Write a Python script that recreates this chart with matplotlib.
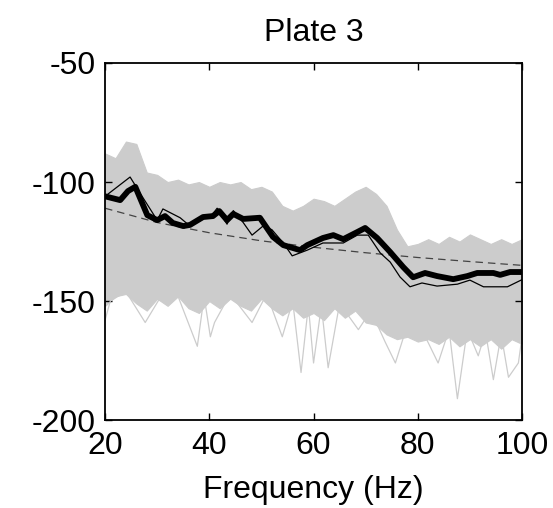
import matplotlib
matplotlib.use("Agg")
import matplotlib.pyplot as plt

plt.rcParams['font.family'] = ['Liberation Sans', 'DejaVu Sans']

# grey band of individual spectra: envelope read every 2 Hz
band_freq = [20, 22, 24, 26, 28, 30, 32, 34, 36, 38, 40, 42, 44, 46, 48, 50, 52, 54, 56, 58, 60,
             62, 64, 66, 68, 70, 72, 74, 76, 78, 80, 82, 84, 86, 88, 90, 92, 94, 96, 98, 100]
band_upper = [-88, -90, -83, -84, -96, -97, -100, -99, -101, -100, -102, -100, -101, -100, -103,
              -102, -104, -110, -112, -110, -107, -108, -110, -107, -104, -102, -105, -110, -120,
              -127, -126, -124, -126, -123, -125, -122, -124, -126, -124, -126, -124]
band_lower = [-152, -148, -147, -151, -154, -149, -152, -148, -153, -155, -150, -153, -149, -152,
              -154, -149, -153, -156, -153, -157, -155, -158, -153, -157, -154, -159, -160, -164,
              -166, -165, -167, -166, -168, -165, -169, -166, -169, -166, -170, -166, -168]

# low outliers below the band
spike_freq = [20, 21, 24, 27.7, 31, 34, 37.7, 39, 40.2, 41, 44, 48.2, 51, 54, 56, 57.6, 59, 60,
              61.5, 62.8, 65, 68.6, 71, 73.7, 75.7, 78, 81, 83.9, 86, 87.6, 89.5, 91.6, 93, 94.5,
              96, 97.4, 99.3, 100]
spike_vals = [-158, -150, -146, -159, -147, -148, -169, -148, -165, -159, -147, -159, -147, -165,
              -150, -180, -152, -176, -152, -178, -151, -162, -154, -167, -176, -160, -163, -176,
              -162, -191, -162, -173, -163, -183, -164, -182, -176, -165]

# thick black curve
thick_freq = [20, 22.9, 24.4, 25.8, 28.1, 30, 31.5, 33, 35, 36.3, 38.8, 40.7, 41.9, 43.4, 44.6,
              46.5, 49.7, 52.2, 54.2, 57.4, 58.8, 61.8, 63.8, 65.7, 68.4, 69.9, 72.2, 74.7, 77.2,
              79.1, 81.4, 83.7, 86.8, 89.5, 91.4, 94.5, 95.8, 97.7, 100]
thick_vals = [-106, -107.6, -103.8, -102, -113.9, -116, -114.3, -117.2, -118.5, -118, -114.7,
              -114.3, -112.2, -116, -113.4, -115.5, -115, -123, -126.5, -128.6, -126.5, -123.5,
              -122.3, -124, -121, -119.3, -123.5, -129.4, -135.7, -140, -138.2, -139.5, -140.8,
              -139.5, -138.2, -138.2, -139, -137.8, -137.8]

# thin black curve
thin_freq = [20, 24.8, 27.1, 30, 31.1, 34.4, 36.3, 40.7, 41.5, 43.4, 44.6, 46.5, 48.2, 50.3, 52,
             54.2, 55.9, 58.8, 61.8, 65.7, 68.4, 70.5, 72.8, 74.7, 76.6, 78.5, 80.8, 83.7, 87.6,
             90, 92.6, 97.2, 100]
thin_vals = [-106, -97.9, -106, -116, -111.3, -115, -118.5, -113.3, -111, -117.7, -112, -117,
             -122.3, -118.5, -120, -125.6, -131, -128.6, -125.6, -125.6, -122.3, -122.3, -129.8,
             -133.6, -139.9, -144, -142.4, -143.7, -142.9, -141.2, -144, -144, -141]

# dashed trend
trend_freq = [20, 30, 40, 50, 60, 70, 80, 90, 100]
trend_vals = [-111, -117, -121.3, -124.7, -127.4, -129.7, -131.7, -133.4, -135]

x_ticks = [20, 40, 60, 80, 100]
y_ticks = [-200, -150, -100, -50]

fig = plt.figure(figsize=(5.53, 5.08), dpi=100)
ax = fig.add_axes([0.190, 0.173, 0.754, 0.703])

grey = '#cccccc'
ax.fill_between(band_freq, band_lower, band_upper, color=grey, lw=0.8, edgecolor=grey)
ax.plot(spike_freq, spike_vals, color=grey, lw=0.9)
ax.plot(trend_freq, trend_vals, color='#444444', lw=0.9, dashes=(6, 4))
ax.plot(thin_freq, thin_vals, color='black', lw=0.9)
ax.plot(thick_freq, thick_vals, color='black', lw=4.2, solid_joinstyle='round')

ax.set_xlim(20, 100)
ax.set_ylim(-200, -50)
ax.set_xticks(x_ticks)
ax.set_yticks(y_ticks)
ax.set_xticklabels([str(t) for t in x_ticks])
ax.set_yticklabels([str(t) for t in y_ticks])
ax.tick_params(direction='in', top=True, right=True, length=5, width=1,
               labelsize=23, pad=8)
ax.tick_params(axis='y', pad=7)
for s in ax.spines.values():
    s.set_linewidth(1.3)

ax.set_xlabel('Frequency (Hz)', fontsize=23, labelpad=10)
ax.set_title('Plate 3', fontsize=23, pad=16)

fig.savefig('out.png', dpi=100)
